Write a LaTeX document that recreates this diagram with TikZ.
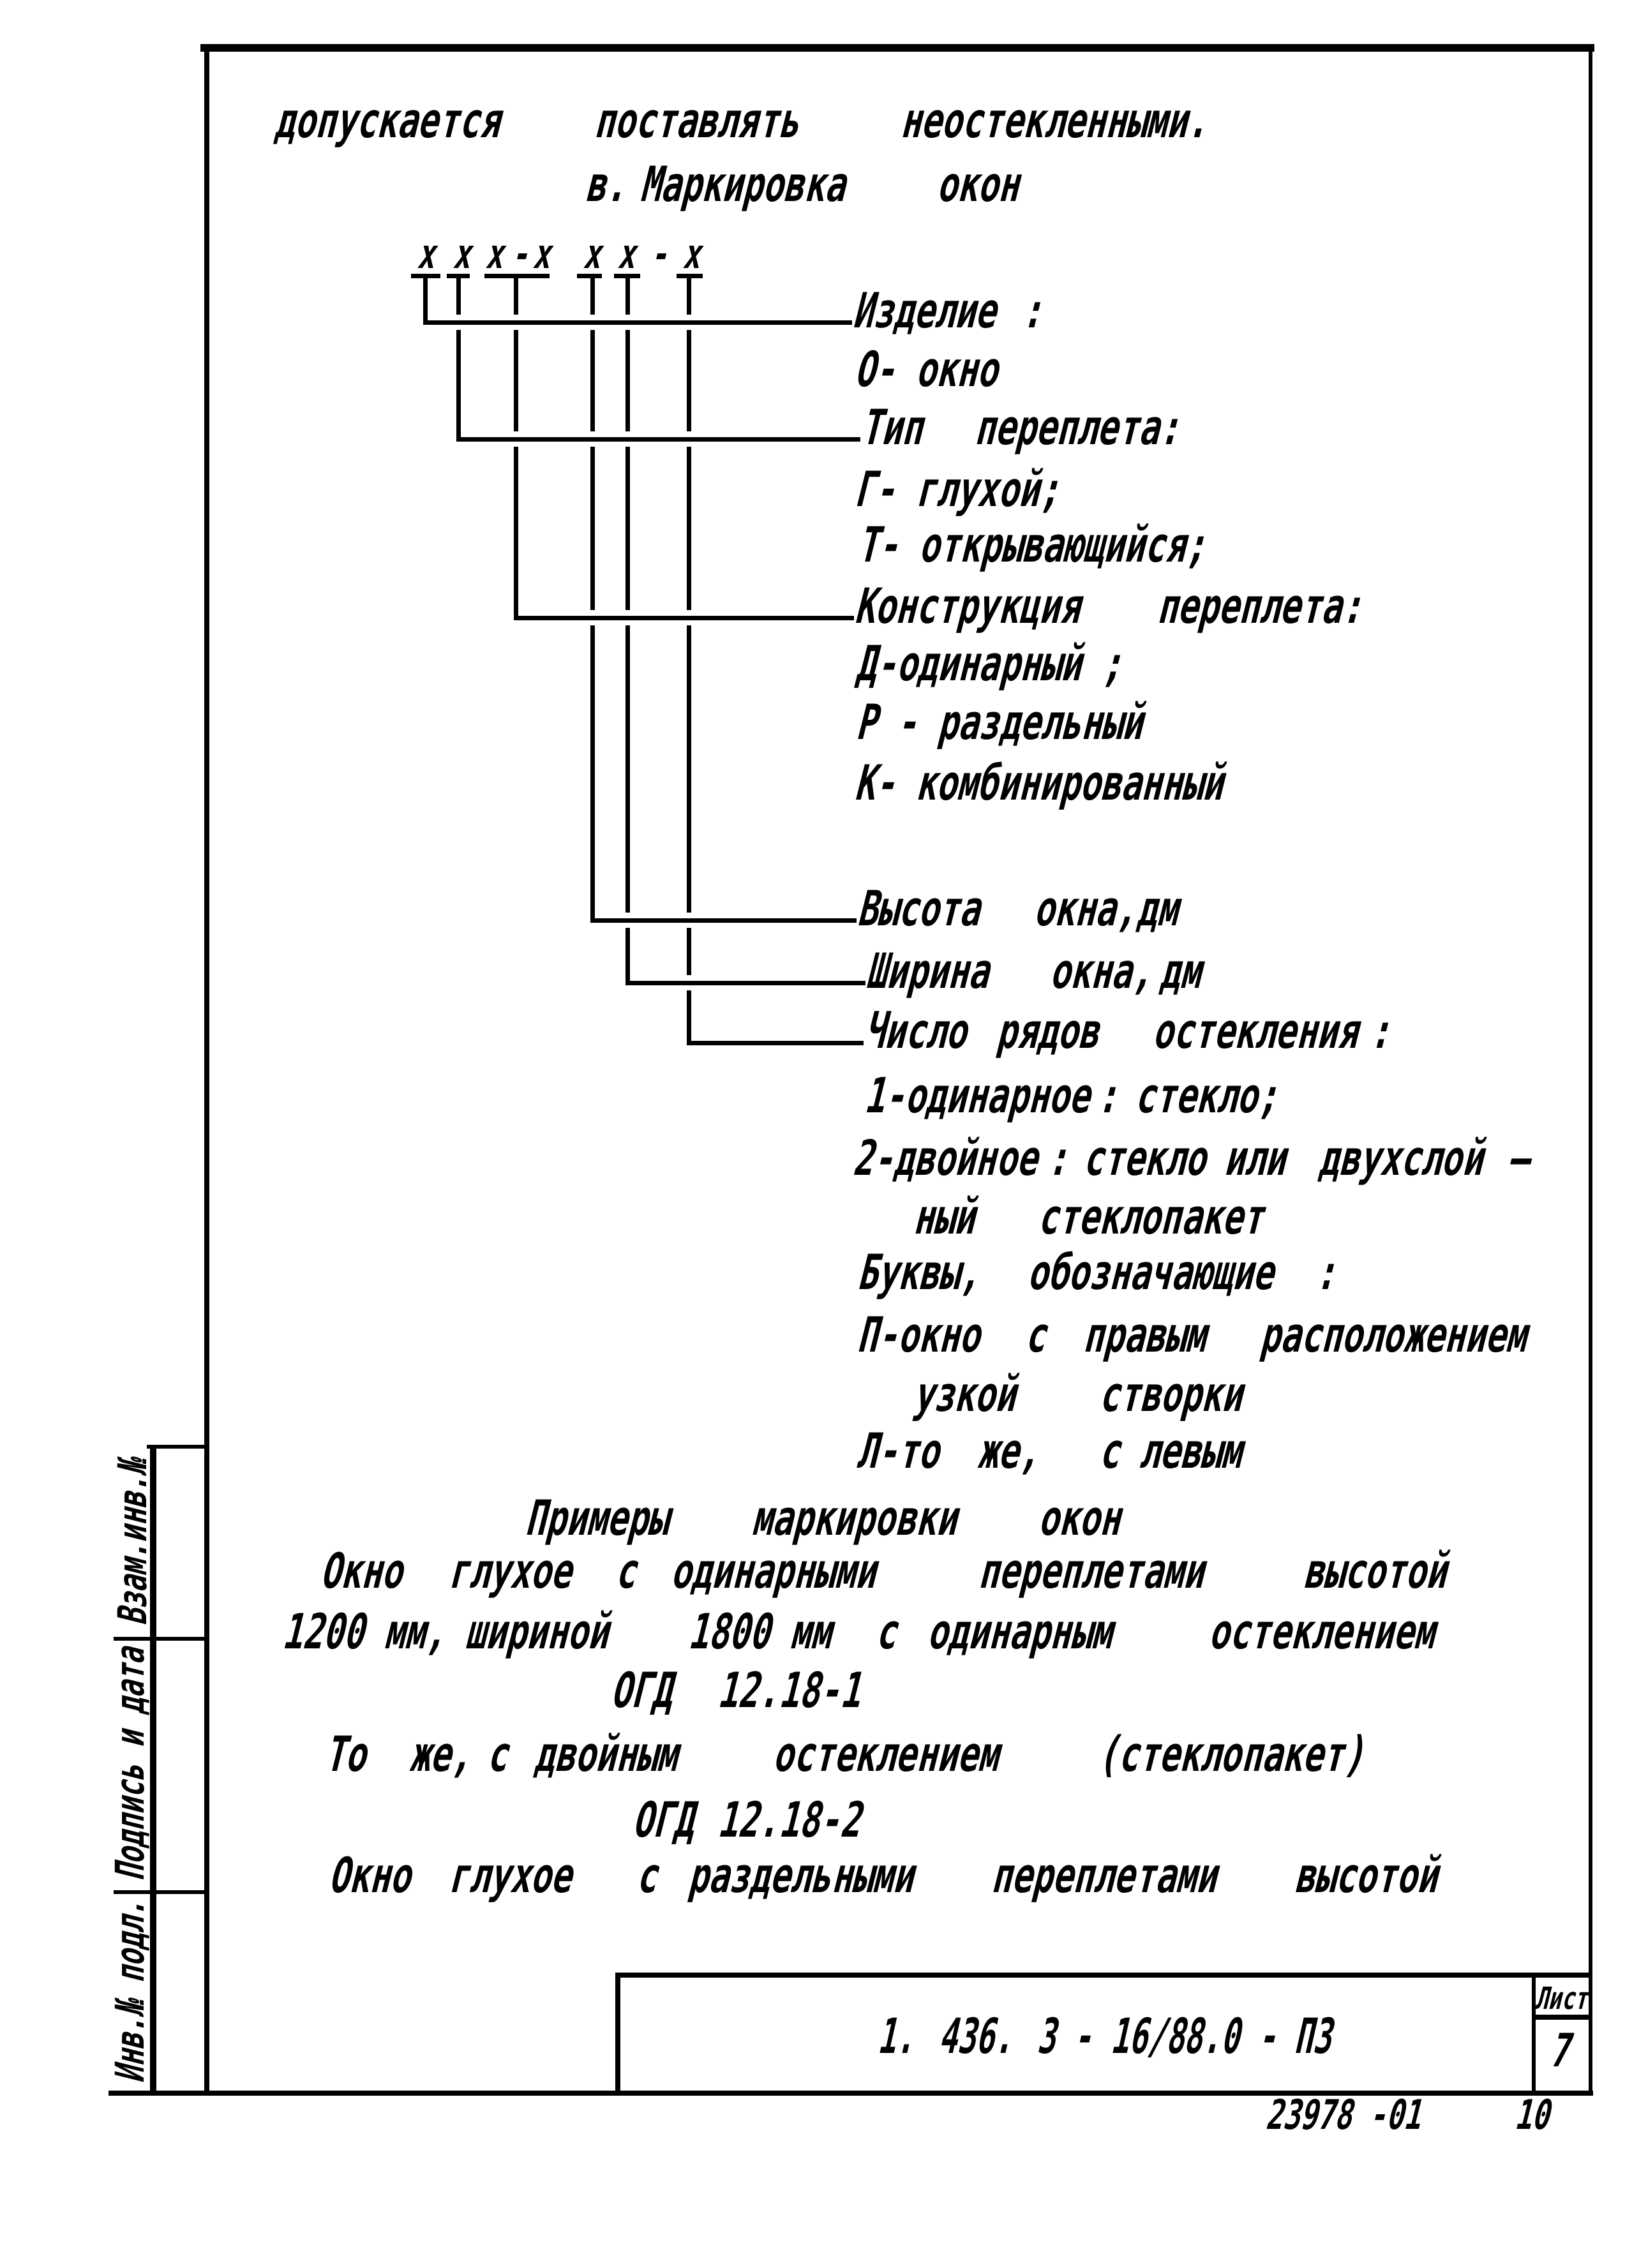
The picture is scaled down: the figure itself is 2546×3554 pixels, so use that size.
\documentclass[tikz,border=0pt]{standalone}
\usepackage{fontspec}
\usepackage{graphicx}
\newfontfamily\hwfont[FakeSlant=0.25,FakeStretch=0.70]{DejaVu Sans Mono}
\newcounter{wc}
\newcommand\wrd[3]{\stepcounter{wc}\node[txt] (w\arabic{wc}) at (#1,#2) {#3};}
\begin{document}
\begin{tikzpicture}[x=0.25pt,y=-0.25pt,
  txt/.style={anchor=mid west, inner sep=0pt, font=\hwfont\bfseries\fontsize{19}{22}\selectfont},
  xs/.style={anchor=base, inner sep=0pt, font=\hwfont\bfseries\fontsize{16}{19}\selectfont},
  stamptxt/.style={anchor=center, inner sep=0pt, rotate=90, font=\hwfont\bfseries\fontsize{15.5}{18}\selectfont},
  conn/.style={line width=1.75pt, preaction={draw=white, line width=6pt}},
  tbar/.style={line width=1.75pt},
  heavy/.style={line width=2.2pt},
  thin/.style={line width=1.3pt}]
\fill[white] (0,0) rectangle (2546,3554);
\useasboundingbox (0,0) rectangle (2546,3554);
% frame
\draw[line width=3pt] (314,75) -- (2498,75);
\draw[heavy] (324,75) -- (324,3280);
\draw[thin] (2492,75) -- (2492,3280);
\draw[heavy] (170,3280) -- (2496,3280);
% title block
\draw[heavy] (968,3280) -- (968,3095) -- (2492,3095);
\draw[thin] (2403,3095) -- (2403,3280);
\draw[heavy] (2403,3161) -- (2492,3161);
% stamp
\draw[line width=2.6pt] (240,2267) -- (240,3280);
\draw[thin] (230,2267) -- (324,2267);
\draw[thin] (178,2568) -- (324,2568);
\draw[thin] (178,2965) -- (324,2965);
\node[stamptxt] (st1) at (207,3122) {Инв.№ подл.};
\node[stamptxt] (st2) at (207,2766) {Подпись и дата};
\node[stamptxt] (st3) at (207,2418) {Взам.инв.№};
% marking scheme
\node[xs] (x1) at (667,420) {х};
\node[xs] (x2) at (723,420) {х};
\node[xs] (x3) at (774,420) {х};
\node[xs] (d1) at (814,420) {-};
\node[xs] (x4) at (848,420) {х};
\node[xs] (x5) at (927,420) {х};
\node[xs] (x6) at (981,420) {х};
\node[xs] (d2) at (1032,420) {-};
\node[xs] (x7) at (1083,420) {х};
\coordinate (s1) at (666,432);
\coordinate (s2) at (718,432);
\coordinate (s3) at (808,432);
\coordinate (s4) at (928,432);
\coordinate (s5) at (983,432);
\coordinate (s6) at (1079,432);
\node[txt] (lab1) at (1335,505) {Изделие};
\node[txt] (lab2) at (1348,688) {Тип};
\node[txt] (lab3) at (1338,968) {Конструкция};
\node[txt] (lab4) at (1342,1442) {Высота};
\node[txt] (lab5) at (1356,1540) {Ширина};
\node[txt] (lab6) at (1353,1634) {Число};
\draw[conn] (s6) |- (lab6.mid west);
\draw[conn] (s5) |- (lab5.mid west);
\draw[conn] (s4) |- (lab4.mid west);
\draw[conn] (s3) |- (lab3.mid west);
\draw[conn] (s2) |- (lab2.mid west);
\draw[conn] (s1) |- (lab1.mid west);
\draw[tbar] (644,432) -- (690,432);
\draw[tbar] (700,432) -- (736,432);
\draw[tbar] (759,432) -- (861,432);
\draw[tbar] (904,432) -- (943,432);
\draw[tbar] (962,432) -- (1003,432);
\draw[tbar] (1060,432) -- (1101,432);
% texts
\wrd{429}{207}{допускается}
\wrd{930}{207}{поставлять}
\wrd{1410}{207}{неостекленными.}
\wrd{916}{307}{в.}
\wrd{1002}{307}{Маркировка}
\wrd{1467}{307}{окон}
\wrd{1600}{505}{:}
\wrd{1338}{597}{О- окно}
\wrd{1526}{688}{переплета:}
\wrd{1338}{785}{Г- глухой;}
\wrd{1343}{872}{Т- открывающийся;}
\wrd{1812}{968}{переплета:}
\wrd{1340}{1058}{Д-одинарный ;}
\wrd{1340}{1150}{Р - раздельный}
\wrd{1338}{1245}{К- комбинированный}
\wrd{1619}{1442}{окна,}
\wrd{1780}{1442}{дм}
\wrd{1644}{1540}{окна,}
\wrd{1816}{1540}{дм}
\wrd{1560}{1634}{рядов}
\wrd{1805}{1634}{остекления}
\wrd{2145}{1634}{:}
\wrd{1353}{1735}{1-одинарное}
\wrd{1718}{1735}{:}
\wrd{1777}{1735}{стекло;}
\wrd{1335}{1833}{2-двойное}
\wrd{1640}{1833}{:}
\wrd{1696}{1833}{стекло}
\wrd{1917}{1833}{или}
\wrd{2065}{1833}{двухслой}
\wrd{2362}{1833}{—}
\wrd{1430}{1925}{ный}
\wrd{1625}{1925}{стеклопакет}
\wrd{1342}{2012}{Буквы,}
\wrd{1609}{2012}{обозначающие}
\wrd{2060}{2012}{:}
\wrd{1342}{2110}{П-окно}
\wrd{1605}{2110}{с}
\wrd{1696}{2110}{правым}
\wrd{1973}{2110}{расположением}
\wrd{1430}{2203}{узкой}
\wrd{1721}{2203}{створки}
\wrd{1342}{2292}{Л-то}
\wrd{1531}{2292}{же,}
\wrd{1721}{2292}{с}
\wrd{1784}{2292}{левым}
\wrd{822}{2397}{Примеры}
\wrd{1177}{2397}{маркировки}
\wrd{1626}{2397}{окон}
\wrd{501}{2480}{Окно}
\wrd{702}{2480}{глухое}
\wrd{963}{2480}{с}
\wrd{1050}{2480}{одинарными}
\wrd{1532}{2480}{переплетами}
\wrd{2041}{2480}{высотой}
\wrd{441}{2575}{1200 мм,}
\wrd{728}{2575}{шириной}
\wrd{1077}{2575}{1800 мм}
\wrd{1371}{2575}{с}
\wrd{1452}{2575}{одинарным}
\wrd{1893}{2575}{остеклением}
\wrd{956}{2667}{ОГД}
\wrd{1123}{2667}{12.18-1}
\wrd{508}{2767}{То}
\wrd{641}{2767}{же,}
\wrd{762}{2767}{с}
\wrd{836}{2767}{двойным}
\wrd{1210}{2767}{остеклением}
\wrd{1719}{2767}{(стеклопакет)}
\wrd{990}{2870}{ОГД}
\wrd{1123}{2870}{12.18-2}
\wrd{514}{2957}{Окно}
\wrd{702}{2957}{глухое}
\wrd{996}{2957}{с}
\wrd{1077}{2957}{раздельными}
\wrd{1552}{2957}{переплетами}
\wrd{2027}{2957}{высотой}
% title block texts
\node[anchor=center, inner sep=0pt, font=\hwfont\bfseries\fontsize{19}{22}\selectfont] (title) at (1730,3193) {\scalebox{0.9}[1]{1. 436. 3 - 16/88.0 - ПЗ}};
\node[anchor=center, inner sep=0pt, font=\hwfont\bfseries\fontsize{12}{14}\selectfont] (sheetlbl) at (2446,3131) {Лист};
\node[anchor=center, inner sep=0pt, font=\hwfont\bfseries\fontsize{18}{21}\selectfont] (sheetno) at (2443,3212) {7};
\node[anchor=base west, inner sep=0pt, font=\hwfont\bfseries\fontsize{16}{19}\selectfont] (code) at (1982,3336) {23978 -01};
\node[anchor=base west, inner sep=0pt, font=\hwfont\bfseries\fontsize{16}{19}\selectfont] (code2) at (2372,3336) {10};
\end{tikzpicture}
\end{document}
